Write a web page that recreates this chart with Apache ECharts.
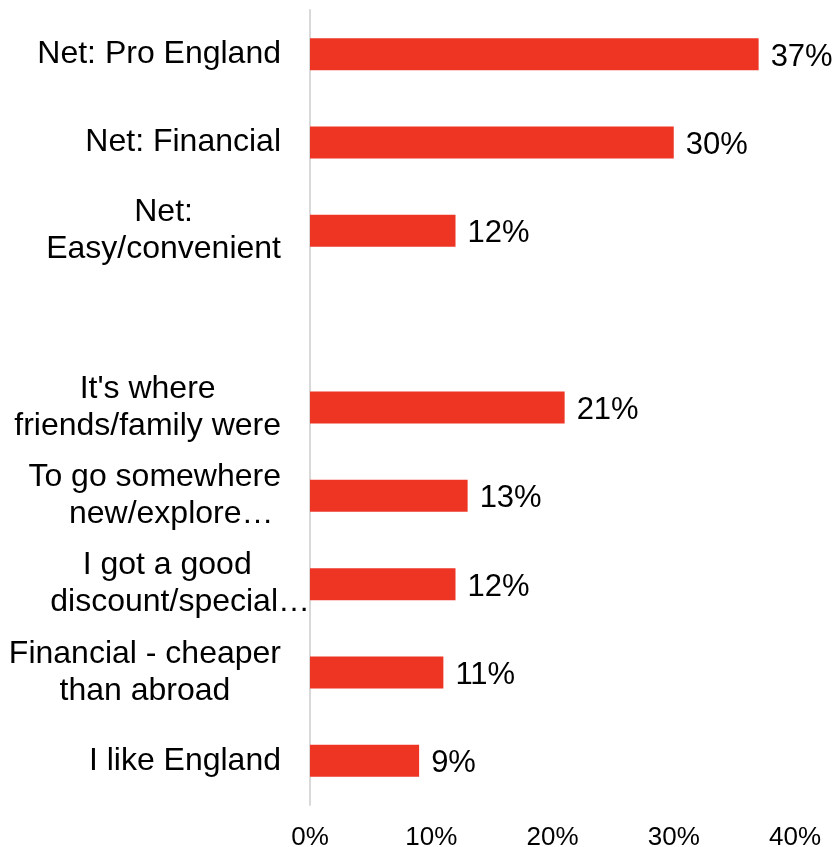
<!DOCTYPE html>
<html>
<head>
<meta charset="utf-8">
<script src="https://cdn.jsdelivr.net/npm/echarts@6/dist/echarts.min.js"></script>
<style>
  html, body { margin: 0; padding: 0; background: #ffffff; }
  #chart { width: 836px; height: 847px; }
</style>
</head>
<body>
<div id="chart"></div>
<script>
// Reasons for choosing a holiday in England (share of respondents)
const categories = [
  'Net: Pro England',
  'Net: Financial',
  'Net:\nEasy/convenient',
  '',
  "It's where\nfriends/family were",
  'To go somewhere\nnew/explore…',
  'I got a good\ndiscount/special…',
  'Financial - cheaper\nthan abroad',
  'I like England'
];
const values = [37, 30, 12, null, 21, 13, 12, 11, 9];
const xTickValues = [0, 10, 20, 30, 40];

const FONT = '"Liberation Sans", Arial, sans-serif';
const RED = '#EE3524';

// Lines that sit a little off-centre inside their label block
const lineStyleFor = {
  'new/explore…': 'nudgeR',
  'I got a good': 'nudgeL'
};

const yData = categories.map(function (c) {
  if (c.indexOf('discount/special') >= 0) {
    // this label runs past the usual right edge, up to the axis
    return { value: c, textStyle: { padding: [0, -29, 0, 0] } };
  }
  return c;
});

const chart = echarts.init(document.getElementById('chart'), null, { renderer: 'canvas' });

chart.setOption({
  backgroundColor: '#ffffff',
  animation: false,
  grid: { left: 310, right: 41, top: 10, bottom: 42, containLabel: false, outerBoundsMode: 'none' },
  xAxis: {
    type: 'value',
    min: xTickValues[0],
    max: xTickValues[xTickValues.length - 1],
    interval: xTickValues[1] - xTickValues[0],
    axisLine: { show: false },
    axisTick: { show: false },
    splitLine: { show: false },
    axisLabel: {
      formatter: '{value}%',
      color: '#000000',
      fontFamily: FONT,
      fontSize: 26,
      margin: 20
    }
  },
  yAxis: {
    type: 'category',
    inverse: true,
    data: yData,
    axisLine: { show: true, lineStyle: { color: '#D9D9D9', width: 2 } },
    axisTick: { show: false },
    splitLine: { show: false },
    axisLabel: {
      interval: 0,
      margin: 29,
      align: 'right',
      color: '#000000',
      fontFamily: FONT,
      fontSize: 32,
      lineHeight: 37,
      formatter: function (v) {
        if (!v) return '';
        return v.split('\n').map(function (line) {
          return '{' + (lineStyleFor[line] || 'c') + '|' + line + '}';
        }).join('\n');
      },
      rich: {
        c: { align: 'center', fontFamily: FONT, fontSize: 32, lineHeight: 37, color: '#000000' },
        nudgeR: { align: 'center', fontFamily: FONT, fontSize: 32, lineHeight: 37, color: '#000000', padding: [0, 0, 0, 33] },
        nudgeL: { align: 'center', fontFamily: FONT, fontSize: 32, lineHeight: 37, color: '#000000', padding: [0, 26, 0, 0] }
      }
    }
  },
  series: [{
    type: 'bar',
    data: values,
    barWidth: 32,
    itemStyle: { color: RED },
    label: {
      show: true,
      position: 'right',
      distance: 12,
      offset: [0, 3],
      formatter: function (p) { return p.value == null ? '' : p.value + '%'; },
      color: '#000000',
      fontFamily: FONT,
      fontSize: 31
    }
  }]
});
</script>
</body>
</html>
